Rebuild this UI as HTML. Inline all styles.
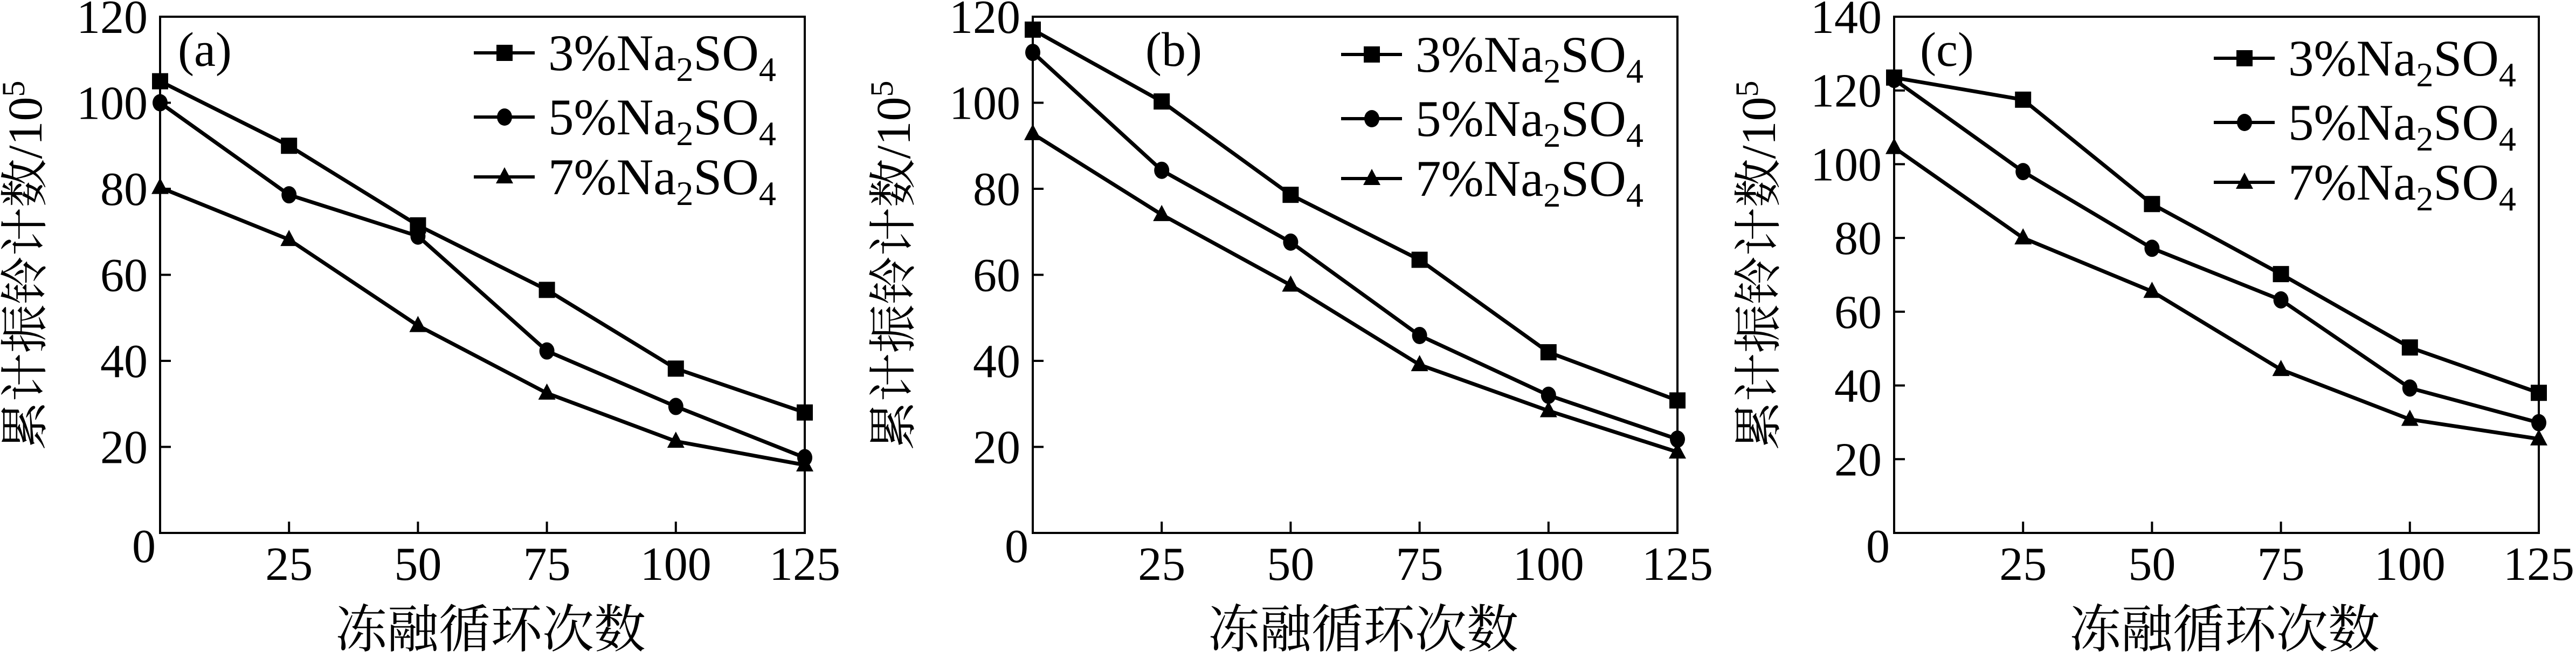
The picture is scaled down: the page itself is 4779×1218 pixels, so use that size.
<!DOCTYPE html>
<html><head><meta charset="utf-8"><style>
html,body{margin:0;padding:0;background:#fff;}
svg{display:block;}
text{font-family:"Liberation Serif","Noto Serif CJK SC","Noto Sans CJK SC",serif;fill:#000;}
</style></head><body>
<svg id="chart" width="4779" height="1218" viewBox="0 0 4779 1218" xmlns="http://www.w3.org/2000/svg"></svg>
<script>
const categories = [0, 25, 50, 75, 100, 125];
const seriesNames = ["3%", "5%", "7%"];
const panelLabels = ["(a)", "(b)", "(c)"];
const yMaxes = [120, 120, 140];
const a3 = [105, 90, 71.5, 56.5, 38.2, 28];
const a5 = [100, 78.6, 69, 42.3, 29.4, 17.5];
const a7 = [80.3, 68.2, 48.2, 32.5, 21.3, 15.8];
const b3 = [117, 100.3, 78.6, 63.5, 42, 30.8];
const b5 = [111.7, 84.3, 67.6, 45.9, 32, 21.8];
const b7 = [92.8, 74, 57.6, 39.1, 28.4, 18.8];
const c3 = [123.5, 117.5, 89.2, 70.2, 50.3, 38];
const c5 = [123, 98, 77.2, 63.2, 39.3, 29.9];
const c7 = [104.5, 80, 65.5, 44.3, 30.8, 25.5];
const panelData = [[a3, a5, a7], [b3, b5, b7], [c3, c5, c7]];

const NS = "http://www.w3.org/2000/svg";
const svg = document.getElementById("chart");
const lefts = [297, 1916, 3514];
const W = 1196, TOP = 31, BOT = 988;
const legendOff = [582, 572, 593];
const legendDy = [0, 3, 10];
const labelOff = [33, 209, 48];
const titleX = [45, 1656, 3261];

function mk(tag, attrs, parent) {
  const el = document.createElementNS(NS, tag);
  for (const k in attrs) el.setAttribute(k, attrs[k]);
  (parent || svg).appendChild(el);
  return el;
}
function marker(g, kind, cx, cy) {
  let m;
  if (kind === 0) m = mk("rect", {x: cx - 15, y: cy - 15, width: 30, height: 30, fill: "#000"}, g);
  else if (kind === 1) m = mk("ellipse", {cx: cx, cy: cy, rx: 14, ry: 16, fill: "#000"}, g);
  else m = mk("polygon", {points: `${cx},${cy - 18} ${cx + 16},${cy + 12} ${cx - 16},${cy + 12}`, fill: "#000"}, g);
  return m;
}

for (let p = 0; p < 3; p++) {
  const L = lefts[p], R = L + W, yMax = yMaxes[p];
  const xS = v => L + (v / 125) * W;
  const yS = v => BOT - (v / yMax) * (BOT - TOP);
  const g = mk("g", {});
  
  

  const frame = mk("rect", {x: L, y: TOP, width: W, height: BOT - TOP, fill: "none", stroke: "#000", "stroke-width": 4}, g);
  
  

  // y ticks
  for (let v = 0; v <= yMax; v += 20) {
    const y = yS(v);
    if (v > 0 && v < yMax) {
      const t = mk("line", {x1: L, x2: L + 20, y1: y, y2: y, stroke: "#000", "stroke-width": 4}, g);
      
      
    }
    const lbl = mk("text", {x: v === 0 ? L - 8 : L - 23, y: v === 0 ? 1042 : y + 30, "font-size": 88, "text-anchor": "end"}, g);
    lbl.textContent = String(v);
    
    
  }
  // x ticks
  categories.forEach(c => {
    if (c === 0) return;
    const x = xS(c);
    if (c < 125) {
      const t = mk("line", {x1: x, x2: x, y1: BOT, y2: BOT - 21, stroke: "#000", "stroke-width": 4}, g);
      
      
    }
    const lbl = mk("text", {x: x, y: 1075, "font-size": 88, "text-anchor": "middle"}, g);
    lbl.textContent = String(c);
    
    
  });

  // series
  panelData[p].forEach((vals, s) => {
    const pts = vals.map((v, i) => `${xS(categories[i])},${yS(v)}`).join(" ");
    const line = mk("polyline", {points: pts, fill: "none", stroke: "#000", "stroke-width": 7, "stroke-linejoin": "round"}, g);
    
    
    vals.forEach((v, i) => {
      const m = marker(g, s, xS(categories[i]), yS(v));
      
      
    });
  });

  // legend
  seriesNames.forEach((nm, s) => {
    const ly = [98, 217, 328][s] + legendDy[p];
    const lx = L + legendOff[p];
    const lg = mk("g", {}, g);
    
    
    mk("line", {x1: lx, x2: lx + 113, y1: ly, y2: ly, stroke: "#000", "stroke-width": 6}, lg);
    marker(lg, s, lx + 57, ly);
    const t = mk("text", {x: lx + 138, y: ly + 32, "font-size": 95}, lg);
    t.innerHTML = nm + 'Na<tspan font-size="64" dy="20">2</tspan><tspan dy="-20">SO</tspan><tspan font-size="64" dy="20">4</tspan>';
  });

  // panel label
  const pl = mk("text", {x: L + labelOff[p], y: 122, "font-size": 90}, g);
  pl.textContent = panelLabels[p];
  
  

  // y title
  const yt = mk("text", {x: 0, y: 0, "font-size": 90, "text-anchor": "middle", transform: `translate(${titleX[p] + 32},492) rotate(-90)`}, g);
  yt.innerHTML = '累计振铃计数/10<tspan font-size="60" dy="-32">5</tspan>';
  
  

  // x title
  const xt = mk("text", {x: L + W / 2 + 15, y: 1200, "font-size": 96, "text-anchor": "middle"}, g);
  xt.textContent = "冻融循环次数";
  
  
}
</script>
</body></html>
